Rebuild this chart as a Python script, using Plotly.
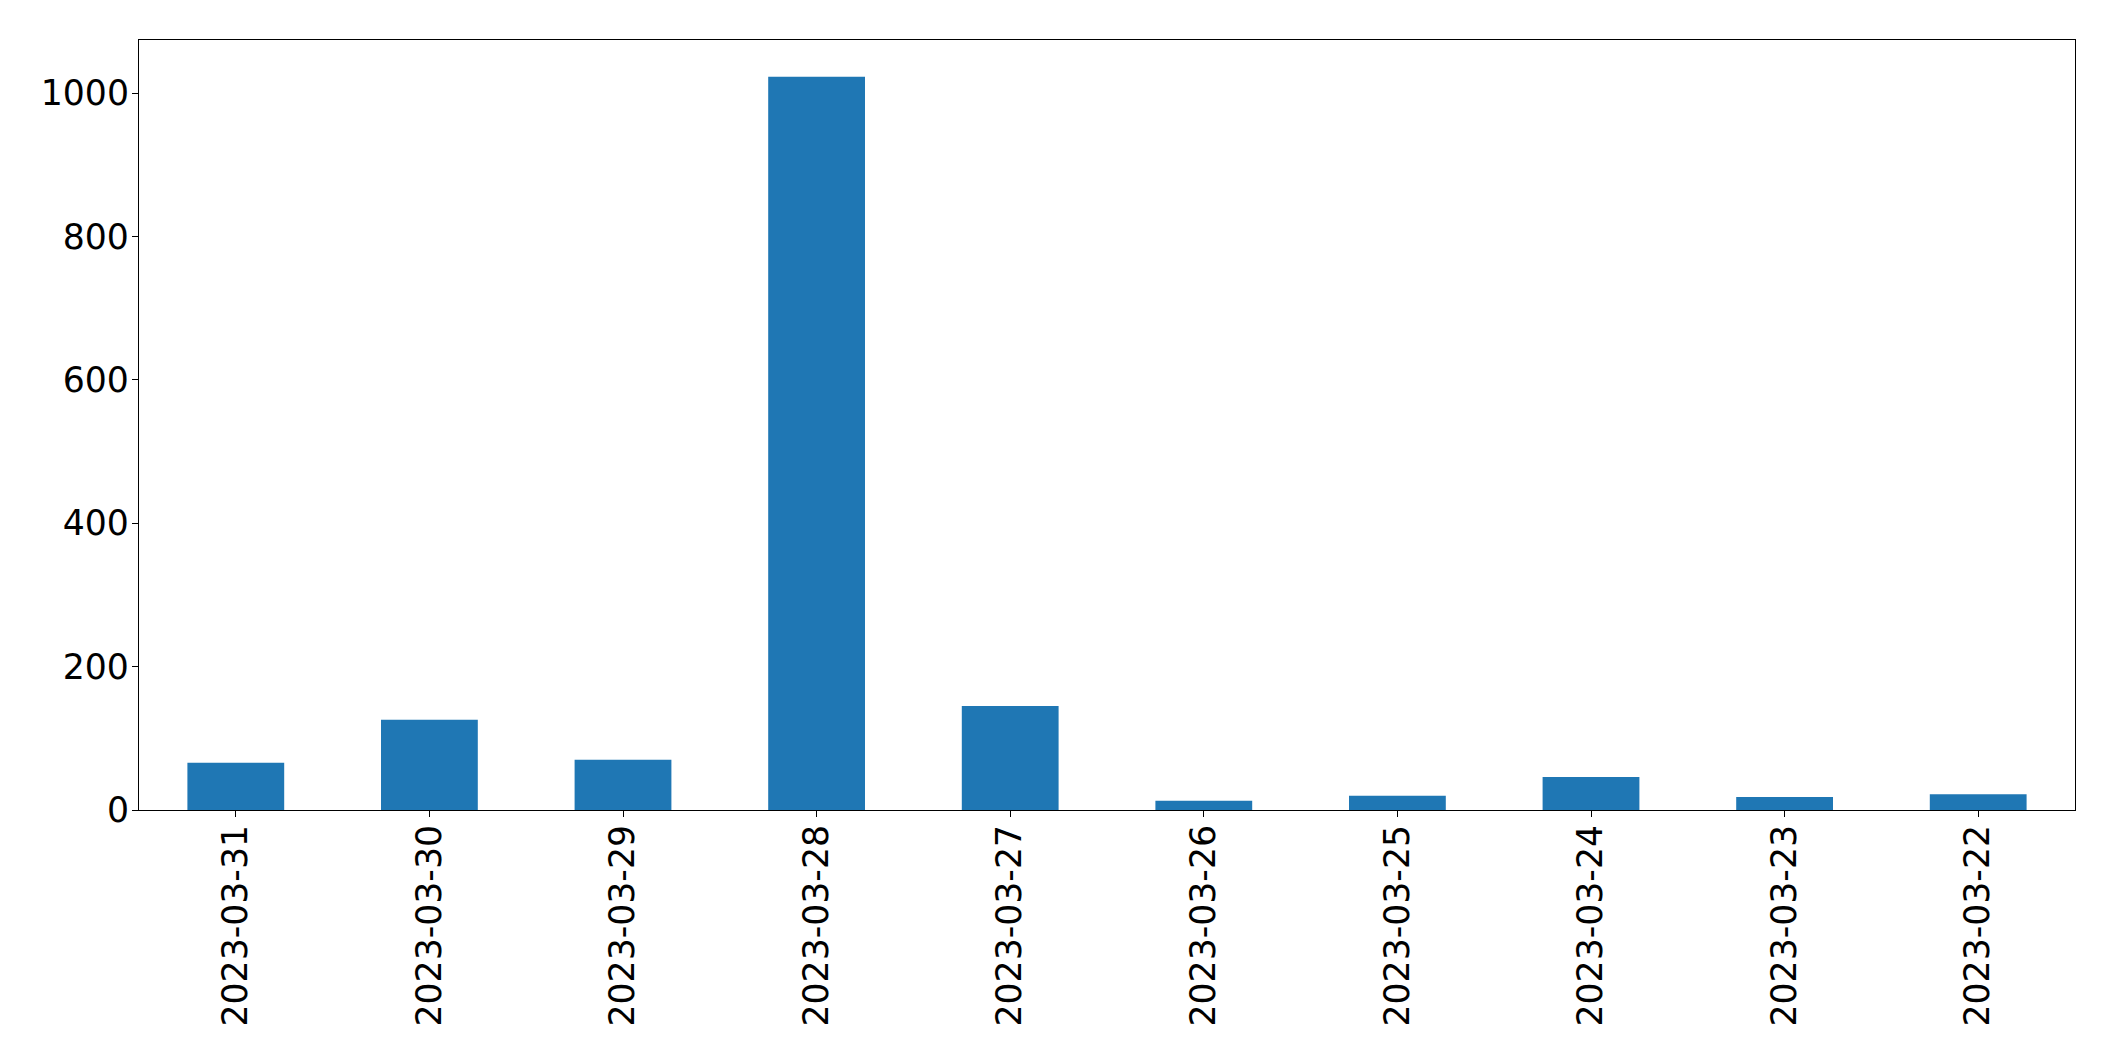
import plotly.graph_objects as go

dates = ["2023-03-31", "2023-03-30", "2023-03-29", "2023-03-28", "2023-03-27",
         "2023-03-26", "2023-03-25", "2023-03-24", "2023-03-23", "2023-03-22"]
counts = [66, 126, 70, 1023, 145, 13, 20, 46, 18, 22]
y_ticks = [0, 200, 400, 600, 800, 1000]

fig = go.Figure(go.Bar(x=dates, y=counts, width=0.5, marker_color="#1f77b4",
                       marker_line_width=0))

font = dict(family="DejaVu Sans", size=34.7, color="black")
fig.update_layout(
    width=2107, height=1053,
    margin=dict(l=131, r=40, t=32, b=251),
    plot_bgcolor="white", paper_bgcolor="white",
    showlegend=False, font=font,
)
fig.update_xaxes(type="category", range=[-0.5, 9.5], tickangle=-90,
                 showline=True, linecolor="black", linewidth=1.2, mirror=True,
                 ticks="outside", ticklen=6, tickwidth=1.2, tickcolor="black",
                 showgrid=False, tickfont=font, ticklabelstandoff=-6)
fig.update_yaxes(range=[0, 1074.15], tickvals=y_ticks,
                 showline=True, linecolor="black", linewidth=1.2, mirror=True,
                 ticks="outside", ticklen=6, tickwidth=1.2, tickcolor="black",
                 showgrid=False, zeroline=False, tickfont=font, ticklabelstandoff=-4)

fig.write_html("out.html")
